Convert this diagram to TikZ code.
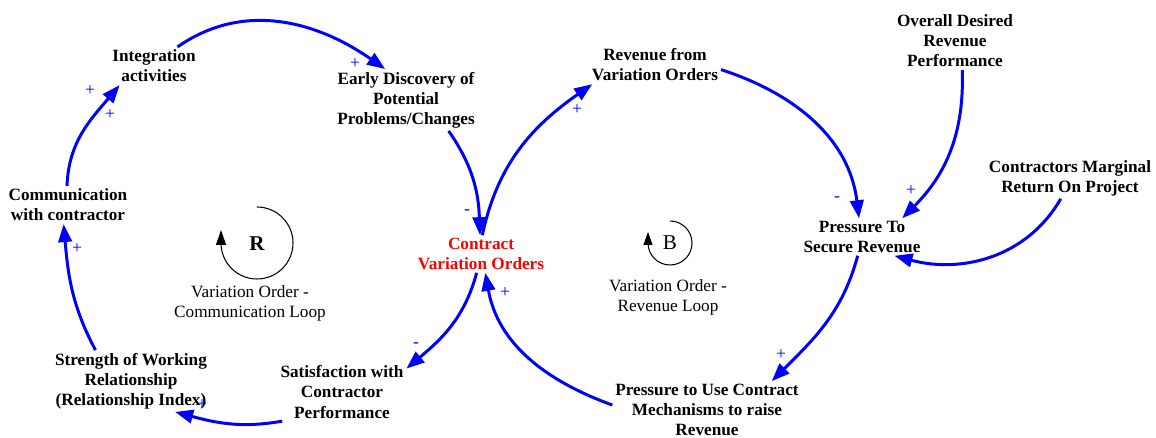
\documentclass[tikz,border=0pt]{standalone}
\usepackage{fontspec}
\setmainfont{Liberation Serif}
\newfontfamily\timesfont{Liberation Serif}
\usetikzlibrary{arrows.meta}
\begin{document}
\begin{tikzpicture}[x=0.02cm, y=0.02cm,
  var/.style={align=center, font=\timesfont\fontsize{9.8}{11.4}\selectfont\bfseries, inner sep=1.5pt},
  link/.style={draw=blue, line width=1.7pt, -{Triangle[length=0.36cm,width=0.27cm]}},
  sign/.style={text=blue, font=\timesfont\fontsize{10}{12}\selectfont, inner sep=0pt},
  looplbl/.style={align=center, font=\timesfont\fontsize{9.8}{11.4}\selectfont}]
\useasboundingbox (0,0) rectangle (1156,-438);

% variables
\node[var] (integ) at (154,-66) {Integration\\activities};
\node[var] (early) at (406,-100) {Early Discovery of\\Potential\\Problems/Changes};
\node[var] (comm) at (68,-205) {Communication\\with contractor};
\node[var, text=red] (cvo) at (481,-254) {Contract\\Variation Orders};
\node[var] (strength) at (131,-381) {Strength of Working\\Relationship\\(Relationship Index)};
\node[var] (satis) at (342,-392) {Satisfaction with\\Contractor\\Performance};
\node[var] (rev) at (655,-65) {Revenue from\\Variation Orders};
\node[var] (overall) at (955,-41) {Overall Desired\\Revenue\\Performance};
\node[var] (cmr) at (1070,-178) {Contractors Marginal\\Return On Project};
\node[var] (pts) at (862,-237) {Pressure To\\Secure Revenue};
\node[var] (ptu) at (707,-410) {Pressure to Use Contract\\Mechanisms to raise\\Revenue};

% links
\draw[link] (integ.39) to[out=35, in=145] (early.124);
\draw[link] (early.-36) to[out=-55, in=92] (cvo.93);
\draw[link] (cvo.86) to[out=78, in=215] (rev.197);
\draw[link] (rev.-4) to[out=-18, in=97] (pts.99);
\draw[link] (overall.-76) to[out=-88, in=45] (pts.25);
\draw[link] (cmr.-114) to[out=-120, in=-15] (pts.-30);
\draw[link] (pts.-103) to[out=-105, in=45] (ptu.24);
\draw[link] (ptu.177) to[out=160, in=-80] (cvo.-77);
\draw[link] (cvo.-103) to[out=-105, in=40] (satis.20);
\draw[link] (satis.206) to[out=190, in=-15] (strength.-35);
\draw[link] (strength.139) to[out=118, in=-85] (comm.-103);
\draw[link] (comm.93) to[out=88, in=230] (integ.209);

% polarities
\node[sign] (p1) at (355,-64) {+};
\node[sign] (p2) at (467,-212) {-};
\node[sign] (p3) at (577,-110) {+};
\node[sign] (p4) at (837,-199) {-};
\node[sign] (p5) at (911,-191) {+};
\node[sign] (p6) at (781,-355) {+};
\node[sign] (p7) at (505,-293) {+};
\node[sign] (p8) at (416,-345) {-};
\node[sign] (p9) at (202,-405) {+};
\node[sign] (p10) at (77,-249) {+};
\node[sign] (p11) at (90,-91) {+};
\node[sign] (p12) at (110,-115) {+};

% loop markers
\node[font=\timesfont\fontsize{12}{14}\selectfont\bfseries] (R) at (257,-244) {R};
\draw[line width=0.6pt, -{Triangle[length=0.3cm,width=0.2cm]}]
  (R) ++(0,37) arc[start angle=90, end angle=-180, radius=36] -- ++(0,13);
\node[looplbl] (rlbl) at (250,-303) {Variation Order -\\Communication Loop};

\node[font=\timesfont\fontsize{12}{14}\selectfont] (B) at (670,-243) {B};
\draw[line width=0.6pt, -{Triangle[length=0.26cm,width=0.18cm]}]
  (B) ++(0,22) arc[start angle=90, end angle=-180, radius=22] -- ++(0,11);
\node[looplbl] (blbl) at (668,-297) {Variation Order -\\Revenue Loop};
\end{tikzpicture}
\end{document}
